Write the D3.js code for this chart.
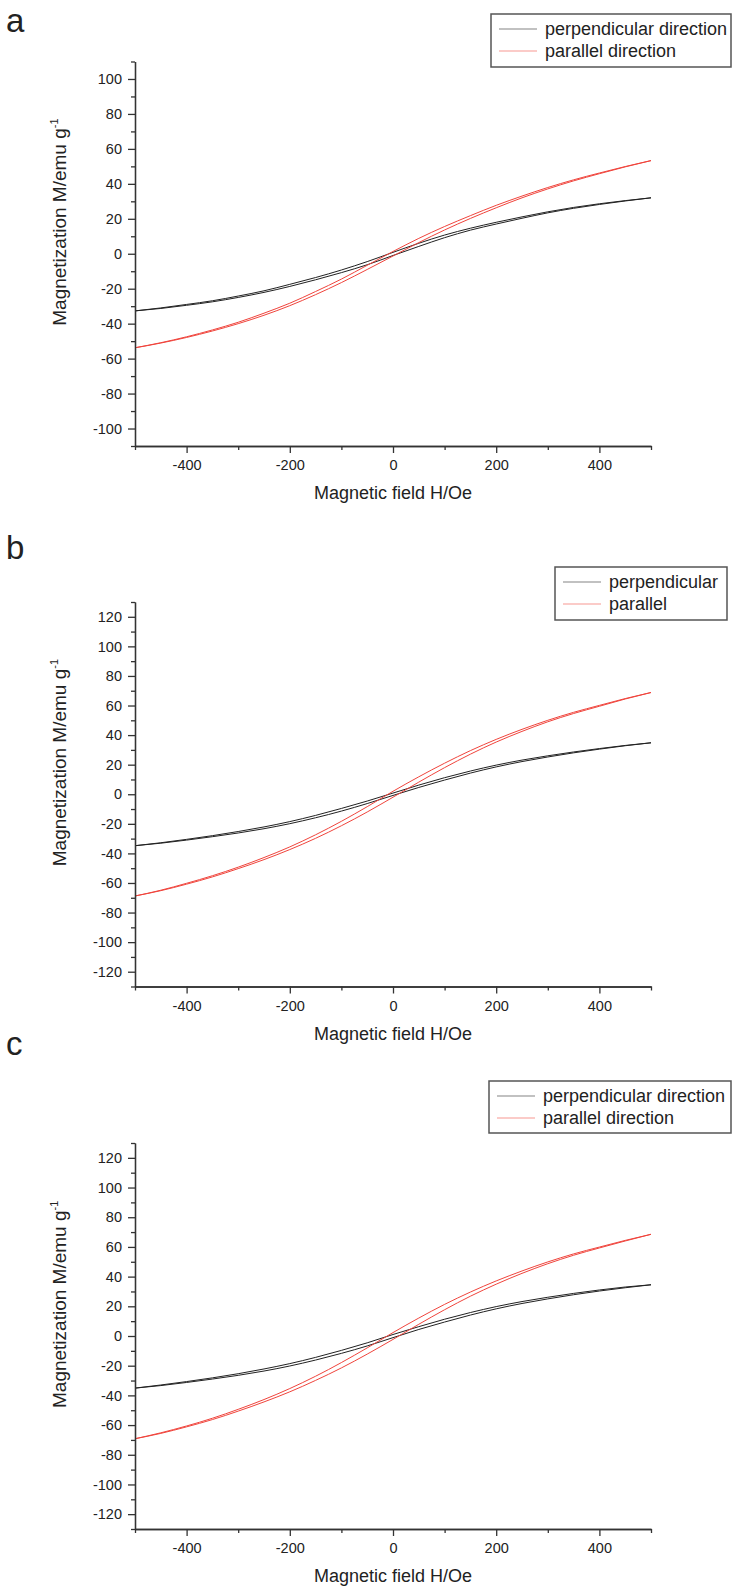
<!DOCTYPE html>
<meta charset="utf-8">
<head>
<style>
body { margin: 0; background: #fff; }
svg text { font-family: "Liberation Sans", Arial, sans-serif; fill: #222; }
.axis path, .axis line { stroke: #333; stroke-width: 1.3px; fill: none; }
.axis text { font-size: 14.5px; fill: #222; }
.loop { fill: none; stroke-width: 1px; }
</style>
<script src="https://d3js.org/d3.v7.min.js"></script>
</head>
<body>
<div id="chart"></div>
<script>

// field values (Oe), shared by every branch
var field = [-500, -450, -400, -350, -300, -250, -200, -150, -100, -50, 0, 50, 100, 150, 200, 250, 300, 350, 400, 450, 500];

// panel a
var aPerpUp   = [-32.7, -31.3, -29.5, -27.5, -25.0, -22.1, -18.7, -14.9, -10.8, -6.3, -1.0, 4.2, 9.2, 13.5, 17.0, 20.3, 23.4, 26.0, 28.2, 30.2, 32.0];
var aPerpDown = [-32.7, -31.0, -29.0, -26.9, -24.2, -21.2, -17.5, -13.6, -9.3, -4.5, 0.8, 6.0, 10.7, 14.6, 18.0, 21.1, 24.0, 26.5, 28.6, 30.4, 32.0];
var aParUp    = [-53.8, -51.1, -47.9, -44.2, -40.0, -35.2, -29.7, -23.4, -16.5, -9.0, -1.3, 6.4, 13.6, 20.2, 26.3, 32.0, 37.1, 41.7, 45.8, 49.7, 53.3];
var aParDown  = [-53.8, -50.9, -47.5, -43.6, -39.2, -34.0, -28.3, -21.6, -14.5, -6.6, 1.3, 8.8, 15.6, 21.8, 27.7, 33.0, 37.9, 42.3, 46.2, 49.9, 53.3];

// panel b
var bPerpUp   = [-34.8, -33.1, -31.0, -28.7, -26.2, -23.3, -19.9, -15.9, -11.4, -6.3, -0.8, 4.6, 9.6, 14.3, 18.5, 22.1, 25.2, 28.0, 30.5, 32.8, 34.8];
var bPerpDown = [-34.8, -32.8, -30.5, -28.0, -25.2, -22.1, -18.5, -14.3, -9.6, -4.6, 0.8, 6.2, 11.2, 15.7, 19.7, 23.1, 26.0, 28.6, 30.9, 33.0, 34.8];
var bParUp    = [-68.8, -65.2, -60.8, -55.9, -50.3, -44.2, -37.4, -29.8, -21.3, -12.0, -2.0, 8.2, 18.0, 27.1, 35.3, 42.5, 49.0, 54.6, 59.5, 64.4, 68.8];
var bParDown  = [-68.8, -64.9, -60.2, -55.1, -49.3, -42.8, -35.6, -27.4, -18.3, -8.4, 2.0, 11.8, 21.0, 29.5, 37.1, 43.9, 50.0, 55.4, 60.1, 64.7, 68.8];

// panel c
var cPerpUp   = [-35.1, -33.4, -31.3, -29.0, -26.5, -23.6, -20.2, -16.2, -11.7, -6.7, -1.1, 4.4, 9.4, 14.1, 18.3, 21.9, 25.0, 27.8, 30.3, 32.5, 34.5];
var cPerpDown = [-35.1, -33.0, -30.7, -28.2, -25.4, -22.2, -18.6, -14.4, -9.7, -4.6, 1.0, 6.3, 11.3, 15.8, 19.8, 23.2, 26.1, 28.7, 31.0, 33.0, 34.5];
var cParUp    = [-69.2, -65.6, -61.2, -56.3, -50.6, -44.4, -37.6, -29.9, -21.5, -12.2, -2.3, 7.9, 17.7, 26.8, 34.9, 42.2, 48.7, 54.4, 59.3, 64.0, 68.5];
var cParDown  = [-69.2, -65.2, -60.6, -55.4, -49.4, -42.8, -35.4, -27.1, -17.9, -8.0, 2.3, 12.1, 21.3, 29.6, 37.1, 43.8, 49.9, 55.3, 59.9, 64.4, 68.5];

var xMajor = [-400, -200, 0, 200, 400];
var xMinor = [-500, -300, -100, 100, 300, 500];
var yMajorA = [-100, -80, -60, -40, -20, 0, 20, 40, 60, 80, 100];
var yMajorBC = [-120, -100, -80, -60, -40, -20, 0, 20, 40, 60, 80, 100, 120];

var legendLong = ["perpendicular direction", "parallel direction"];
var legendShort = ["perpendicular", "parallel"];
var colors = ["#222222", "#f0443c"];

var svg = d3.select("#chart").append("svg")
  .attr("width", 732)
  .attr("height", 1588);

var x = d3.scaleLinear().domain([-500, 500]).range([135, 651]);

// plain hyphen, as in the original figure
var fmt = function(d) { return String(d); };

var panels = [
  {letter: "a", letterY: 32, top: 61.5, bottom: 446, ymax: 110, major: yMajorA,
   series: [[aPerpUp, aPerpDown], [aParUp, aParDown]],
   legend: legendLong, box: [491, 14, 240, 53]},
  {letter: "b", letterY: 559, top: 602, bottom: 986.5, ymax: 130, major: yMajorBC,
   series: [[bPerpUp, bPerpDown], [bParUp, bParDown]],
   legend: legendShort, box: [555, 567, 172, 53]},
  {letter: "c", letterY: 1055, top: 1143, bottom: 1529, ymax: 130, major: yMajorBC,
   series: [[cPerpUp, cPerpDown], [cParUp, cParDown]],
   legend: legendLong, box: [489, 1081, 242, 52]}
];

panels.forEach(function(p) {
  var g = svg.append("g");
  var y = d3.scaleLinear().domain([-p.ymax, p.ymax]).range([p.bottom, p.top]);
  var yMinor = d3.range(-p.ymax, p.ymax + 1, 20);
  var mid = (p.top + p.bottom) / 2;

  // panel letter
  g.append("text")
    .attr("x", 6)
    .attr("y", p.letterY)
    .style("font-size", "33px")
    .text(p.letter);

  // curves: each loop drawn as two branches
  var line = d3.line()
    .x(function(d, i) { return x(field[i]); })
    .y(function(d) { return y(d); })
    .curve(d3.curveMonotoneX);
  p.series.forEach(function(branches, k) {
    branches.forEach(function(vals) {
      g.append("path")
        .attr("class", "loop")
        .attr("stroke", colors[k])
        .attr("d", line(vals));
    });
  });

  // y axis
  g.append("g")
    .attr("class", "axis")
    .attr("transform", "translate(" + x.range()[0] + ",0)")
    .call(d3.axisLeft(y).tickValues(yMinor).tickSize(4).tickSizeOuter(0).tickFormat(""));
  g.append("g")
    .attr("class", "axis")
    .attr("transform", "translate(" + x.range()[0] + ",0)")
    .call(d3.axisLeft(y).tickValues(p.major).tickSize(7).tickPadding(6).tickSizeOuter(0).tickFormat(fmt));

  // x axis
  g.append("g")
    .attr("class", "axis")
    .attr("transform", "translate(0," + p.bottom + ")")
    .call(d3.axisBottom(x).tickValues(xMinor).tickSize(4).tickSizeOuter(0).tickFormat(""));
  g.append("g")
    .attr("class", "axis")
    .attr("transform", "translate(0," + p.bottom + ")")
    .call(d3.axisBottom(x).tickValues(xMajor).tickSize(7).tickPadding(7).tickSizeOuter(0).tickFormat(fmt));

  // axis titles
  g.append("text")
    .attr("x", (x.range()[0] + x.range()[1]) / 2)
    .attr("y", p.bottom + 53)
    .attr("text-anchor", "middle")
    .style("font-size", "18px")
    .text("Magnetic field H/Oe");

  var ylab = g.append("text")
    .attr("transform", "translate(66," + (mid + 72) + ") rotate(-90)")
    .attr("text-anchor", "start")
    .style("font-size", "19px");
  ylab.append("tspan").text("Magnetization M/emu g");
  ylab.append("tspan").attr("dy", -8).style("font-size", "11px").text("-1");

  // legend
  var b = p.box;
  g.append("rect")
    .attr("x", b[0]).attr("y", b[1])
    .attr("width", b[2]).attr("height", b[3])
    .attr("fill", "none")
    .attr("stroke", "#555")
    .attr("stroke-width", 1.5);
  p.legend.forEach(function(name, k) {
    var cy = b[1] + 15 + k * 22;
    g.append("line")
      .attr("x1", b[0] + 8).attr("x2", b[0] + 46)
      .attr("y1", cy).attr("y2", cy)
      .attr("stroke", colors[k])
      .attr("stroke-width", 0.8)
      .attr("stroke-opacity", 0.7);
    g.append("text")
      .attr("x", b[0] + 54)
      .attr("y", cy + 6)
      .style("font-size", "18px")
      .text(name);
  });
});

</script>
</body>
</html>
